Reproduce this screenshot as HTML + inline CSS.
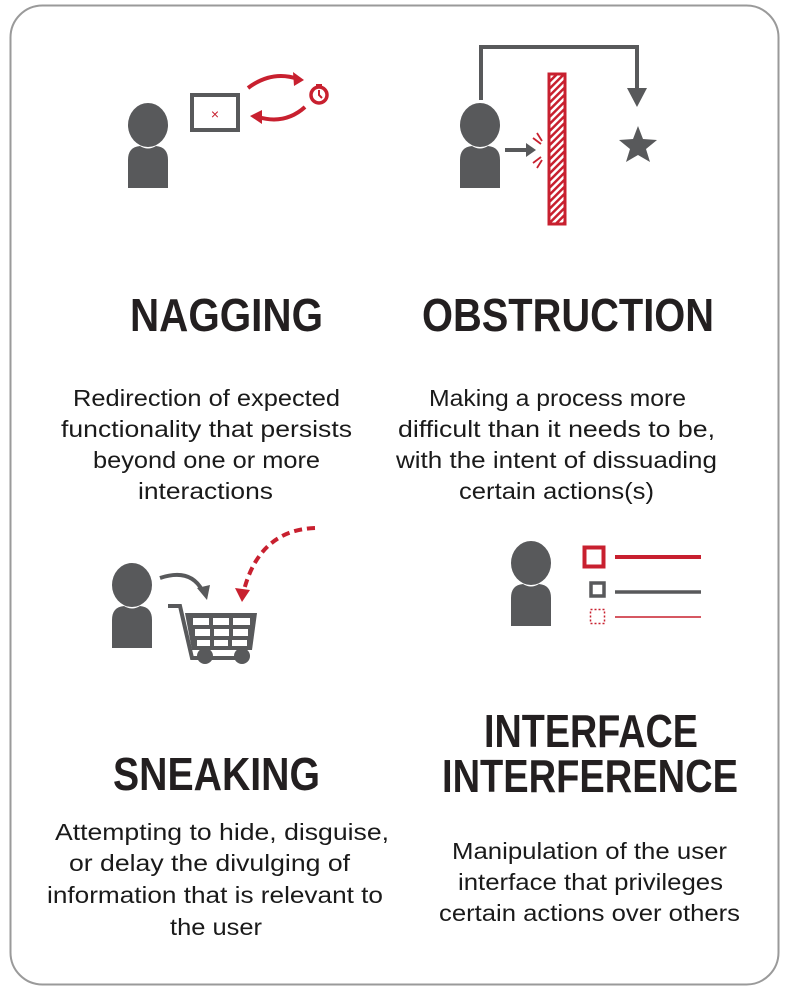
<!DOCTYPE html>
<html><head><meta charset="utf-8"><style>
html,body{margin:0;padding:0;background:#fff;}
svg{display:block;}
.t{font-family:"Liberation Sans Narrow","Liberation Sans",sans-serif;font-weight:bold;font-size:46px;fill:#231f20;}
.b{font-family:"Liberation Sans",sans-serif;font-size:23px;fill:#1a1a1a;}
</style></head><body>
<svg width="788" height="991" viewBox="0 0 788 991" xmlns="http://www.w3.org/2000/svg">
<defs>
<pattern id="hatch" width="5" height="5" patternUnits="userSpaceOnUse" patternTransform="rotate(45)">
<rect width="5" height="5" fill="#fff"/><rect width="2.5" height="5" fill="#c8202f"/>
</pattern>
<g id="person">
<ellipse cx="0" cy="0" rx="20" ry="22" fill="#58595b"/>
<path d="M-20 63 V35 Q-20 22 -8 21 Q0 26 8 21 Q20 22 20 35 V63 Z" fill="#58595b"/>
</g>
</defs>
<rect x="10.5" y="5.5" width="768" height="979" rx="32" fill="#fff" stroke="#9a9a9a" stroke-width="2"/>

<!-- NAGGING icon -->
<use href="#person" x="148" y="125"/>
<rect x="192" y="95" width="46" height="35" fill="#fff" stroke="#58595b" stroke-width="4"/>
<text x="215" y="119" font-family="Liberation Sans,sans-serif" font-size="14" fill="#c8202f" text-anchor="middle">×</text>
<path d="M248 88 Q272 70 298 79" fill="none" stroke="#c8202f" stroke-width="4"/>
<polygon points="304,80 293,72 294,86" fill="#c8202f"/>
<circle cx="319" cy="95" r="8" fill="#fff" stroke="#c8202f" stroke-width="3.5"/>
<rect x="316" y="84" width="6" height="3" fill="#c8202f"/>
<path d="M319 90 V95 L322 98" fill="none" stroke="#c8202f" stroke-width="2"/>
<path d="M305 107 Q285 125 258 117" fill="none" stroke="#c8202f" stroke-width="4"/>
<polygon points="250,116 262,110 262,124" fill="#c8202f"/>

<!-- OBSTRUCTION icon -->
<path d="M481 100 V47 H637 V90" fill="none" stroke="#58595b" stroke-width="4"/>
<polygon points="627,88 647,88 637,107" fill="#58595b"/>
<polygon points="638,126 643,139 657,140 646,149 650,162 638,155 626,162 630,149 619,140 633,139" fill="#58595b"/>
<use href="#person" x="480" y="125"/>
<path d="M505 150 H527" stroke="#58595b" stroke-width="4"/>
<polygon points="536,150 526,143 526,157" fill="#58595b"/>
<path d="M537 133 L542 141 M533 138 L541 144 M533 163 L541 157 M537 168 L542 160" stroke="#c8202f" stroke-width="1.8"/>
<rect x="549" y="74" width="16" height="150" fill="url(#hatch)" stroke="#c8202f" stroke-width="3"/>

<text class="t" x="130" y="331" textLength="193" lengthAdjust="spacingAndGlyphs">NAGGING</text>
<text class="t" x="422" y="331" textLength="292" lengthAdjust="spacingAndGlyphs">OBSTRUCTION</text>

<text class="b" x="73" y="406" textLength="267" lengthAdjust="spacingAndGlyphs">Redirection of expected</text>
<text class="b" x="61" y="437" textLength="291" lengthAdjust="spacingAndGlyphs">functionality that persists</text>
<text class="b" x="93" y="468" textLength="227" lengthAdjust="spacingAndGlyphs">beyond one or more</text>
<text class="b" x="138" y="499" textLength="135" lengthAdjust="spacingAndGlyphs">interactions</text>

<text class="b" x="429" y="406" textLength="257" lengthAdjust="spacingAndGlyphs">Making a process more</text>
<text class="b" x="398" y="437" textLength="317" lengthAdjust="spacingAndGlyphs">difficult than it needs to be,</text>
<text class="b" x="396" y="468" textLength="321" lengthAdjust="spacingAndGlyphs">with the intent of dissuading</text>
<text class="b" x="459" y="499" textLength="195" lengthAdjust="spacingAndGlyphs">certain actions(s)</text>

<!-- SNEAKING icon -->
<use href="#person" x="132" y="585"/>
<path d="M160 578 Q190 568 202 590" fill="none" stroke="#58595b" stroke-width="4"/>
<polygon points="207,600 197,588 210,585" fill="#58595b"/>
<path d="M315 528 Q260 530 244 590" fill="none" stroke="#c8202f" stroke-width="4" stroke-dasharray="8,5"/>
<polygon points="242,602 235,588 250,590" fill="#c8202f"/>
<path d="M168 606 H180 L192 658 H248" fill="none" stroke="#58595b" stroke-width="4"/>
<polygon points="185,613 257,613 252,650 192,650" fill="#58595b"/>
<g fill="#fff">
<rect x="193" y="618" width="16" height="7"/><rect x="213" y="618" width="16" height="7"/><rect x="233" y="618" width="17" height="7"/>
<rect x="195" y="629" width="15" height="7"/><rect x="214" y="629" width="15" height="7"/><rect x="233" y="629" width="15" height="7"/>
<rect x="197" y="640" width="13" height="6"/><rect x="214" y="640" width="14" height="6"/><rect x="232" y="640" width="15" height="6"/>
</g>
<circle cx="205" cy="656" r="8" fill="#58595b"/>
<circle cx="242" cy="656" r="8" fill="#58595b"/>

<!-- INTERFACE icon -->
<use href="#person" x="531" y="563"/>
<rect x="584.5" y="547.5" width="19" height="19" fill="none" stroke="#c8202f" stroke-width="4"/>
<path d="M615 557 H701" stroke="#c8202f" stroke-width="4"/>
<rect x="591" y="583" width="13" height="13" fill="none" stroke="#58595b" stroke-width="3.5"/>
<path d="M615 592 H701" stroke="#58595b" stroke-width="3.5"/>
<rect x="590.5" y="609.5" width="14" height="14" fill="none" stroke="#c8202f" stroke-width="1.5" stroke-dasharray="2,2"/>
<path d="M615 617 H701" stroke="#c8202f" stroke-width="1.5"/>

<text class="t" x="113" y="790" textLength="207" lengthAdjust="spacingAndGlyphs">SNEAKING</text>
<text class="t" x="484" y="747" textLength="214" lengthAdjust="spacingAndGlyphs">INTERFACE</text>
<text class="t" x="442" y="792" textLength="296" lengthAdjust="spacingAndGlyphs">INTERFERENCE</text>

<text class="b" x="55" y="840" textLength="334" lengthAdjust="spacingAndGlyphs">Attempting to hide, disguise,</text>
<text class="b" x="69" y="871" textLength="281" lengthAdjust="spacingAndGlyphs">or delay the divulging of</text>
<text class="b" x="47" y="903" textLength="336" lengthAdjust="spacingAndGlyphs">information that is relevant to</text>
<text class="b" x="170" y="935" textLength="92" lengthAdjust="spacingAndGlyphs">the user</text>

<text class="b" x="452" y="859" textLength="275" lengthAdjust="spacingAndGlyphs">Manipulation of the user</text>
<text class="b" x="458" y="890" textLength="265" lengthAdjust="spacingAndGlyphs">interface that privileges</text>
<text class="b" x="439" y="921" textLength="301" lengthAdjust="spacingAndGlyphs">certain actions over others</text>
</svg>
</body></html>
